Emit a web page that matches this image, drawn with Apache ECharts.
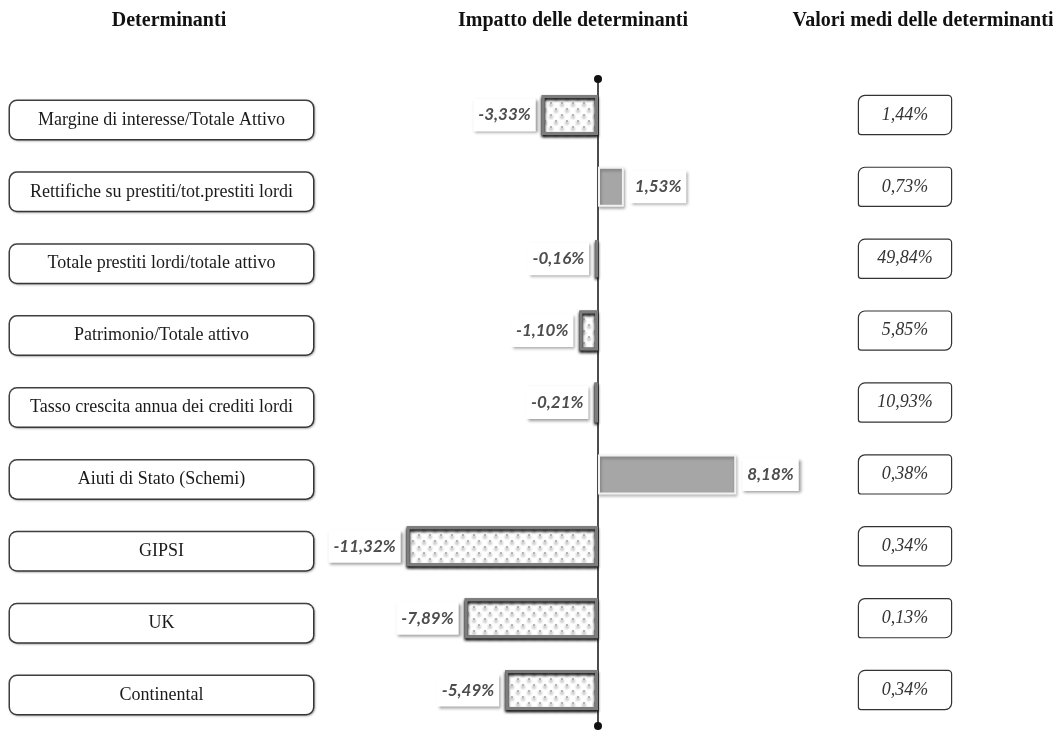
<!DOCTYPE html>
<html>
<head>
<meta charset="utf-8">
<title>Determinanti</title>
<script src="https://cdn.jsdelivr.net/npm/echarts@6/dist/echarts.min.js"></script>
<style>
  html, body { margin: 0; padding: 0; background: #fff; }
  #chart-content { width: 1053px; height: 731px; }
</style>
</head>
<body>
<div id="chart-content"></div>
<script>
// dati
var determinanti = ['Margine di interesse/Totale Attivo', 'Rettifiche su prestiti/tot.prestiti lordi',
  'Totale prestiti lordi/totale attivo', 'Patrimonio/Totale attivo', 'Tasso crescita annua dei crediti lordi',
  'Aiuti di Stato (Schemi)', 'GIPSI', 'UK', 'Continental'];
var impatto = [-3.33, 1.53, -0.16, -1.10, -0.21, 8.18, -11.32, -7.89, -5.49];
var valoriMedi = [1.44, 0.73, 49.84, 5.85, 10.93, 0.38, 0.34, 0.13, 0.34];
var intestazioni = ['Determinanti', 'Impatto delle determinanti', 'Valori medi delle determinanti'];

var view = {};

function fmt(v) {
  return v.toFixed(2).replace('.', ',') + '%';
}

view.loadChart = function () {
  var mychat = echarts.init(document.getElementById('chart-content'));

  var serif = "'Liberation Serif', 'DejaVu Serif', serif";
  var titleStyle = { fontFamily: serif, fontWeight: 'bold', fontSize: 20, color: '#111' };
  var hiddenX = {
    type: 'value',
    min: -20,
    max: 10,
    axisLine: { show: false },
    axisTick: { show: false },
    axisLabel: { show: false },
    splitLine: { show: false }
  };

  // barre: negative con puntini, positive grigio pieno
  var barData = impatto.map(function (v) {
    if (v < 0) {
      return {
        value: v,
        itemStyle: {
          color: '#fff',
          borderColor: '#7d7d7d',
          borderWidth: 3,
          shadowColor: 'rgba(0,0,0,0.3)',
          shadowBlur: 3,
          shadowOffsetY: 2,
          decal: {
            symbol: 'circle',
            symbolSize: 1,
            color: '#a3a3a3',
            dashArrayX: [[1.5, 8.5], [0, 5, 1.5, 3.5]],
            dashArrayY: [1.5, 3.5]
          }
        },
        label: { position: 'left' }
      };
    }
    return {
      value: v,
      itemStyle: {
        color: '#a6a6a6',
        borderColor: '#f2f2f2',
        borderWidth: 2,
        shadowColor: 'rgba(0,0,0,0.3)',
        shadowBlur: 3,
        shadowOffsetX: 1,
        shadowOffsetY: 2
      },
      label: { position: 'right' }
    };
  });

  var option = {
    backgroundColor: '#fff',
    animation: false,
    title: [
      { text: intestazioni[0], left: 164, top: 6, textAlign: 'center', textStyle: titleStyle },
      { text: intestazioni[1], left: 568, top: 6, textAlign: 'center', textStyle: titleStyle },
      { text: intestazioni[2], left: 918, top: 6, textAlign: 'center', textStyle: titleStyle }
    ],
    grid: [
      { left: 260, right: 286, top: 79, bottom: 5 },
      // colonna sinistra, un poco più in basso
      { left: 260, right: 286, top: 84, bottom: 0 }
    ],
    xAxis: [
      hiddenX,
      echarts.util.merge({ gridIndex: 1 }, hiddenX)
    ],
    yAxis: [
      {
        // asse delle barre, linea verticale sullo zero
        type: 'category',
        inverse: true,
        position: 'left',
        data: determinanti,
        axisLine: {
          show: true,
          onZero: true,
          symbol: ['circle', 'circle'],
          symbolSize: [8, 8],
          lineStyle: { color: '#111', width: 1.5 }
        },
        axisTick: { show: false },
        axisLabel: { show: false }
      },
      {
        // colonna dei valori medi
        type: 'category',
        inverse: true,
        position: 'right',
        data: determinanti,
        axisLine: { show: false, onZero: false },
        axisTick: { show: false },
        axisLabel: {
          interval: 0,
          margin: 138,
          align: 'center',
          width: 92,
          lineHeight: 20,
          padding: [9, 0, 9, 0],
          fontFamily: serif,
          fontStyle: 'italic',
          fontSize: 18,
          color: '#333',
          backgroundColor: '#fff',
          borderColor: '#333',
          borderWidth: 1.2,
          borderRadius: [6, 3, 6, 2],
          formatter: function (value, index) {
            return fmt(valoriMedi[index]);
          }
        }
      },
      {
        // colonna delle determinanti
        gridIndex: 1,
        type: 'category',
        inverse: true,
        position: 'left',
        data: determinanti,
        axisLine: { show: false, onZero: false },
        axisTick: { show: false },
        axisLabel: {
          interval: 0,
          margin: 98.5,
          align: 'center',
          width: 303,
          lineHeight: 20,
          padding: [9, 0, 9, 0],
          fontFamily: serif,
          fontSize: 18,
          color: '#1a1a1a',
          backgroundColor: '#fff',
          borderColor: '#404040',
          borderWidth: 1.5,
          borderRadius: 7,
          shadowColor: 'rgba(0,0,0,0.25)',
          shadowBlur: 2,
          shadowOffsetX: 1,
          shadowOffsetY: 1
        }
      }
    ],
    series: [
      {
        name: 'Impatto',
        type: 'bar',
        xAxisIndex: 0,
        yAxisIndex: 0,
        barWidth: 40,
        data: barData,
        label: {
          show: true,
          distance: 6,
          formatter: function (p) { return fmt(p.value); },
          fontFamily: "Lato, 'Open Sans', sans-serif",
          fontStyle: 'italic',
          fontWeight: 'bold',
          fontSize: 17,
          color: '#4d4d4d',
          backgroundColor: '#fff',
          padding: [8, 5, 8, 5],
          shadowColor: 'rgba(0,0,0,0.4)',
          shadowBlur: 3,
          shadowOffsetX: 2,
          shadowOffsetY: 2
        }
      }
    ]
  };
  mychat.setOption(option);
};

window.onload = function () {
  view.loadChart();
};
</script>
</body>
</html>
